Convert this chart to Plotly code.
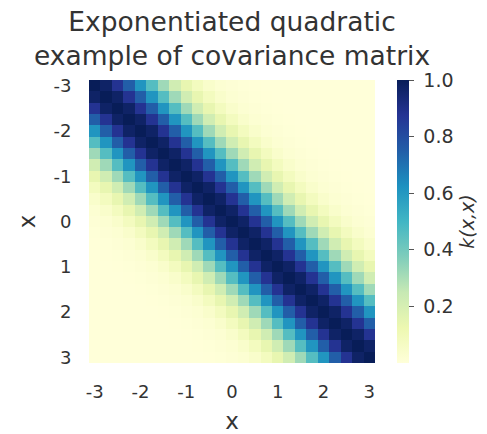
import plotly.graph_objects as go

# grid points (25 samples from -3 to 3)
x_points = [-3.0, -2.75, -2.5, -2.25, -2.0, -1.75, -1.5, -1.25, -1.0, -0.75, -0.5, -0.25,
            0.0, 0.25, 0.5, 0.75, 1.0, 1.25, 1.5, 1.75, 2.0, 2.25, 2.5, 2.75, 3.0]
# covariance value read for each cell offset from the diagonal
k_by_offset = [1.0, 0.97, 0.88, 0.75, 0.61, 0.46, 0.32, 0.22, 0.14, 0.08, 0.044, 0.023,
               0.011, 0.005, 0.002, 0.001, 0.0004, 0.0001, 0.0, 0.0, 0.0, 0.0, 0.0, 0.0, 0.0]
tick_vals = [-3, -2, -1, 0, 1, 2, 3]
tick_text = ["-3", "-2", "-1", "0", "1", "2", "3"]
cbar_vals = [0.2, 0.4, 0.6, 0.8, 1.0]
cbar_text = [" 0.2", " 0.4", " 0.6", " 0.8", " 1.0"]

n = len(x_points)
z = [[k_by_offset[abs(i - j)] for j in range(n)] for i in range(n)]

ylgnbu = [
    [0.0, "#ffffd9"], [0.125, "#edf8b1"], [0.25, "#c7e9b4"], [0.375, "#7fcdbb"],
    [0.5, "#41b6c4"], [0.625, "#1d91c0"], [0.75, "#225ea8"], [0.875, "#253494"],
    [1.0, "#081d58"],
]

W, H = 487, 434
L, R, T, B = 89, 2, 80, 69
plot_w = W - L - R
heat_w = 286
dom_right = heat_w / plot_w
cb_x = (397 - L) / plot_w

txt = "#333333"
fig = go.Figure(go.Heatmap(
    x=x_points, y=x_points, z=z, zmin=0, zmax=1,
    colorscale=ylgnbu,
    colorbar=dict(
        x=cb_x, xanchor="left", y=0.5, yanchor="middle", len=1.0, lenmode="fraction",
        thickness=12, outlinewidth=0, xpad=0, ypad=0,
        tickvals=cbar_vals, ticktext=cbar_text, ticks="outside", ticklen=5,
        tickcolor="#555555", tickfont=dict(size=19, color=txt),
        title=dict(text="<i>k(x,x)</i>", side="right", font=dict(size=19, color=txt)),
    ),
))

fig.update_layout(
    width=W, height=H,
    margin=dict(l=L, r=R, t=T, b=B),
    paper_bgcolor="white", plot_bgcolor="white",
    font=dict(family="DejaVu Sans", color=txt),
    annotations=[dict(
        text="Exponentiated quadratic<br>example of covariance matrix",
        xref="paper", yref="paper", x=dom_right / 2, y=1 + (T - 38) / (H - T - B),
        xanchor="center", yanchor="middle", showarrow=False,
        font=dict(size=26.5, color=txt))],
)
fig.update_xaxes(domain=[0, dom_right], tickvals=tick_vals, ticktext=tick_text,
                 ticks="outside", ticklen=12,
                 tickcolor="white", tickfont=dict(size=18, color=txt), showgrid=False,
                 zeroline=False, showline=False,
                 title=dict(text="x", font=dict(size=23, color=txt), standoff=14))
fig.update_yaxes(tickvals=tick_vals, ticktext=tick_text, ticks="outside", ticklen=13,
                 tickcolor="white", tickfont=dict(size=18, color=txt), showgrid=False,
                 zeroline=False, showline=False, autorange="reversed",
                 title=dict(text="x", font=dict(size=23, color=txt), standoff=11))

fig.write_html("out.html")
